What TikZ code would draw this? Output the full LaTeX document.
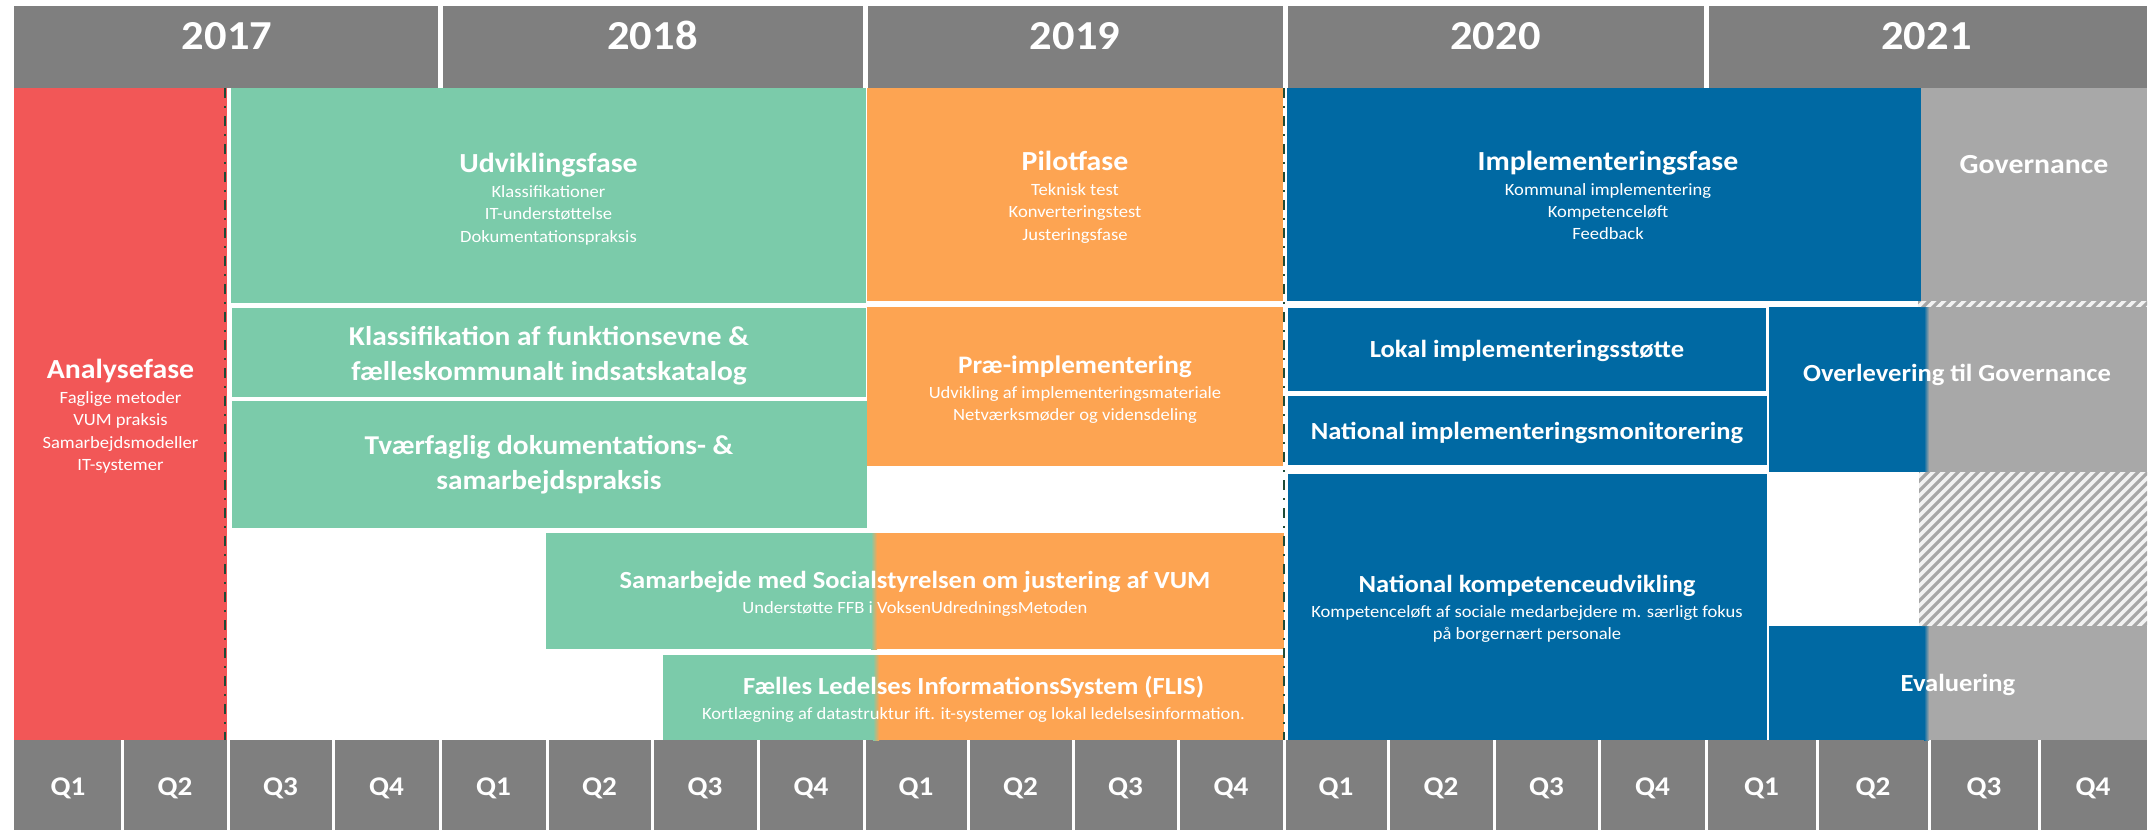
\documentclass[tikz,border=0pt]{standalone}
\usepackage{fontspec}
\setmainfont{Carlito}[FakeStretch=1.08]
\definecolor{hdrgray}{RGB}{127,127,127}
\definecolor{analred}{RGB}{242,87,87}
\definecolor{devgreen}{RGB}{123,203,170}
\definecolor{pilotorange}{RGB}{253,164,82}
\definecolor{implblue}{RGB}{0,105,163}
\definecolor{govgray}{RGB}{168,168,168}
\definecolor{hatchbg}{RGB}{242,242,242}
\definecolor{hatchgray}{RGB}{166,166,166}
\definecolor{phaseline}{RGB}{30,75,55}
\tikzstyle{phase} = [inner sep=0pt, text=white, align=center, font=\fontsize{8.6}{11.2}\selectfont]
\tikzstyle{rowtitle} = [inner sep=0pt, text=white, align=center, font=\fontsize{12.3}{17.5}\selectfont\bfseries]
\tikzstyle{widetitle} = [inner sep=0pt, text=white, align=center, font=\fontsize{13.6}{17.5}\selectfont\bfseries]
\tikzstyle{bigtitle} = [inner sep=0pt, text=white, font=\fontsize{13.8}{16}\selectfont\bfseries]
\tikzstyle{year} = [inner sep=0pt, text=white, font=\fontsize{20.6}{25}\selectfont\bfseries]
\tikzstyle{quarter} = [inner sep=0pt, text=white, font=\fontsize{13.5}{16}\selectfont\bfseries]
\tikzstyle{phaseborder} = [phaseline, line width=1.3pt, dash pattern=on 5pt off 4pt on 1pt off 4pt]
\tikzstyle{hatch} = [hatchgray, line width=1.6pt]
\newcommand{\phasetitle}[2][13.8]{{\fontsize{#1}{#1}\selectfont\bfseries #2}\\[1.3pt]}

\begin{document}
\begin{tikzpicture}[x=0.5pt,y=-0.5pt]
    \useasboundingbox (0,0) rectangle (2154,830);
    \fill[white] (0,0) rectangle (2154,830);

    % years
    \fill[hdrgray] (14,6) rectangle (2147,88);
    \foreach \xa/\xb/\yr in {14/440/2017, 440/865/2018, 865/1285/2019, 1285/1706/2020, 1706/2147/2021}
        \node[year, anchor=base] (y\yr) at ({(\xa+\xb)/2},49.3) {\yr};
    \foreach \xs in {440,865,1285,1706}
        \draw[white, line width=2.5pt] (\xs,6) -- (\xs,90);

    % quarters
    \fill[hdrgray] (14,740) rectangle (2147,830);
    \foreach \xa/\xb/\q [count=\i] in {14/122/Q1, 122/228/Q2, 228/333/Q3, 333/440/Q4,
            440/547/Q1, 547/652/Q2, 652/758/Q3, 758/864/Q4,
            864/968/Q1, 968/1073/Q2, 1073/1178/Q3, 1178/1284/Q4,
            1284/1388/Q1, 1388/1494/Q2, 1494/1599/Q3, 1599/1706/Q4,
            1706/1817/Q1, 1817/1929/Q2, 1929/2039/Q3, 2039/2147/Q4}
        \node[quarter, anchor=base] (q\i) at ({(\xa+\xb)/2},795.3) {\q};
    \foreach \xs in {122,228,333,440,547,652,758,864,968,1073,1178,1284,1388,1494,1599,1706,1817,1929,2039}
        \draw[white, line width=1.5pt] (\xs,740) -- (\xs,830);

    % 2017
    \fill[analred] (14,88) rectangle (227,740);
    \node[phase] (analyse) at (120.5,416) {\phasetitle{Analysefase}Faglige metoder\\VUM praksis\\Samarbejdsmodeller\\IT-systemer};

    % 2017-2018
    \fill[devgreen] (231,88) rectangle (866,303);
    \node[phase] (udvikling) at (548.5,199) {\phasetitle{Udviklingsfase}Klassifikationer\\IT-understøttelse\\Dokumentationspraksis};
    \fill[devgreen] (232,308) rectangle (866,397);
    \node[widetitle] (klassifikation) at (549,355.5) {Klassifikation af funktionsevne \&\\fælleskommunalt indsatskatalog};
    \fill[devgreen] (232,401) rectangle (867,528);
    \node[widetitle] (tvaerfaglig) at (549,465) {Tværfaglig dokumentations- \&\\samarbejdspraksis};
    \fill[devgreen] (546,533) rectangle (874,649);
    \fill[pilotorange] (874,533) rectangle (1284,649);
    \shade[left color=devgreen, right color=pilotorange] (871,533) rectangle (877,649);
    \node[phase] (samarbejde) at (915,594) {\phasetitle[12.3]{Samarbejde med Socialstyrelsen om justering af VUM}Understøtte FFB i VoksenUdredningsMetoden};
    \fill[devgreen] (663,655) rectangle (876,740);
    \fill[pilotorange] (876,655) rectangle (1284,740);
    \shade[left color=devgreen, right color=pilotorange] (873,655) rectangle (879,740);
    \node[phase] (flis) at (973.5,699) {\phasetitle[12.3]{Fælles Ledelses InformationsSystem (FLIS)}Kortlægning af datastruktur ift. it-systemer og lokal ledelsesinformation.};

    % 2019
    \fill[pilotorange] (867,88) rectangle (1283,301);
    \node[phase] (pilot) at (1075,197) {\phasetitle{Pilotfase}Teknisk test\\Konverteringstest\\Justeringsfase};
    \fill[pilotorange] (867,307) rectangle (1283,466);
    \node[phase] (praeimpl) at (1075,389.5) {\phasetitle[12.6]{Præ-implementering}Udvikling af implementeringsmateriale\\Netværksmøder og vidensdeling};

    % 2020
    \fill[implblue] (1287,88) rectangle (1921,301);
    \node[phase] (implementering) at (1608,195.3) {\phasetitle{Implementeringsfase}Kommunal implementering\\Kompetenceløft\\Feedback};
    \fill[implblue] (1288,308) rectangle (1766,391);
    \node[rowtitle, anchor=base] (lokal) at (1527,357.7) {Lokal implementeringsstøtte};
    \fill[implblue] (1288,396) rectangle (1767,465);
    \node[rowtitle, anchor=base] (monitorering) at (1527,439.5) {National implementeringsmonitorering};
    \fill[implblue] (1288,474) rectangle (1767,740);
    \node[phase] (kompetence) at (1527,609) {\phasetitle[12.3]{National kompetenceudvikling}Kompetenceløft af sociale medarbejdere m. særligt fokus\\på borgernært personale};

    % 2021
    \fill[govgray] (1921,88) rectangle (2147,301);
    \node[bigtitle, anchor=base] (governance) at (2034,173.3) {Governance};
    \fill[implblue] (1769,307) rectangle (1926,472);
    \fill[govgray] (1926,307) rectangle (2147,472);
    \shade[left color=implblue, right color=govgray] (1924,307) rectangle (1929,472);
    \node[rowtitle, anchor=base] (overlevering) at (1957,381.7) {Overlevering til Governance};
    \fill[implblue] (1769,626) rectangle (1926,740);
    \fill[govgray] (1926,626) rectangle (2147,740);
    \shade[left color=implblue, right color=govgray] (1924,626) rectangle (1929,740);
    \node[rowtitle, anchor=base] (evaluering) at (1958,691.7) {Evaluering};

    % hatched gaps
    \fill[hatchbg] (1918,301) rectangle (2147,307);
    \fill[hatchbg] (1919,472) rectangle (2147,626);
    \begin{scope}
        \clip (1918,301) rectangle (2147,307) (1919,472) rectangle (2147,626);
        \foreach \hx in {1580,1590,...,2150}
            \draw[hatch] (\hx,630) -- ++(340,-340);
    \end{scope}

    % phase borders
    \draw[phaseborder] (225,88) -- (225,740);
    \draw[phaseborder] (1284,88) -- (1284,740);
\end{tikzpicture}
\end{document}
